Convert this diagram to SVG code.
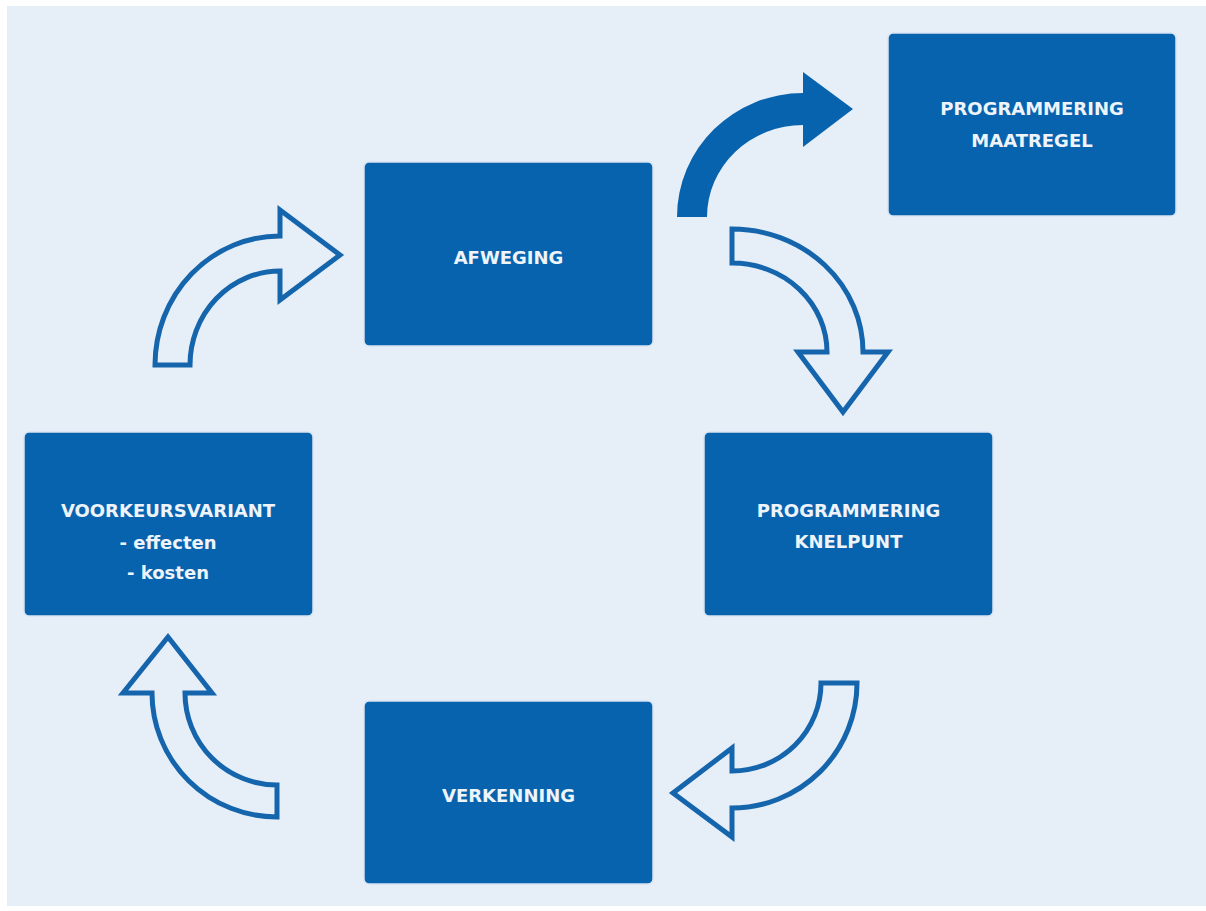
<svg xmlns="http://www.w3.org/2000/svg" width="1206" height="911" viewBox="0 0 1206 911">
  <style>
    .box { fill: #0863ae; stroke: #d6e4f2; stroke-width: 1.5; }
    .lbl { font-family: "DejaVu Sans", "Liberation Sans", sans-serif; font-weight: bold; font-size: 18px; fill: #eef4fa; text-anchor: middle; }
    .outl { fill: #e6eef7; stroke: #1565ad; stroke-width: 5; stroke-linejoin: miter; }
    .solid { fill: #0863ae; }
  </style>
  <rect x="0" y="0" width="1206" height="911" fill="#ffffff"/>
  <rect x="7" y="6" width="1199" height="900" fill="#e6eef7"/>

  <g id="connectors">
    <path class="solid" d="M 677 217 A 126 124 0 0 1 803 93 L 803 72 L 853 109 L 803 147 L 803 125 A 96 92 0 0 0 707 217 Z"/>
    <path class="outl" d="M 732 229 A 131 123 0 0 1 863 352 L 888 352 L 843 412 L 798 352 L 827 352 A 95 89 0 0 0 732 263 Z"/>
    <path class="outl" d="M 857 683 A 125 125 0 0 1 732 808 L 732 837 L 673 793 L 732 748 L 732 771 A 89 88 0 0 0 821 683 Z"/>
    <path class="outl" d="M 277 817 A 125 124 0 0 1 152 693 L 123 693 L 168 637 L 212 693 L 185 693 A 92 92 0 0 0 277 785 Z"/>
    <path class="outl" d="M 155 365 A 125 129 0 0 1 280 236 L 280 210 L 340 255 L 280 300 L 280 271 A 90 94 0 0 0 190 365 Z"/>
  </g>

  <g id="node-afweging">
    <rect class="box" x="364" y="162" width="289" height="184" rx="5"/>
    <text class="lbl" x="508.5" y="264">AFWEGING</text>
  </g>

  <g id="node-programmering-maatregel">
    <rect class="box" x="888" y="33" width="288" height="183" rx="5"/>
    <text class="lbl" x="1032" y="115">PROGRAMMERING</text>
    <text class="lbl" x="1032" y="147">MAATREGEL</text>
  </g>

  <g id="node-programmering-knelpunt">
    <rect class="box" x="704" y="432" width="289" height="184" rx="5"/>
    <text class="lbl" x="848.5" y="517">PROGRAMMERING</text>
    <text class="lbl" x="848.5" y="548">KNELPUNT</text>
  </g>

  <g id="node-verkenning">
    <rect class="box" x="364" y="701" width="289" height="183" rx="5"/>
    <text class="lbl" x="508.5" y="802">VERKENNING</text>
  </g>

  <g id="node-voorkeursvariant">
    <rect class="box" x="24" y="432" width="289" height="184" rx="5"/>
    <text class="lbl" x="168" y="517">VOORKEURSVARIANT</text>
    <text class="lbl" x="168" y="549">- effecten</text>
    <text class="lbl" x="168" y="579">- kosten</text>
  </g>
</svg>
